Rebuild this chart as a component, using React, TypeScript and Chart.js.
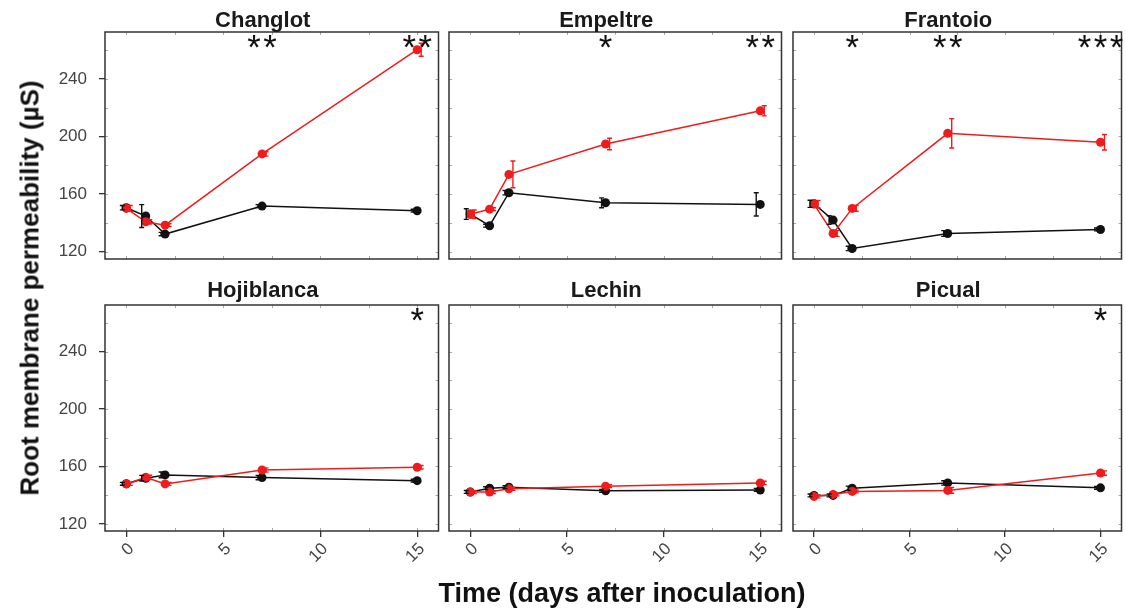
import React, { useEffect, useRef } from 'react';
import { Chart, registerables } from 'chart.js';

Chart.register(...registerables);

// ---------------- data ----------------
const days = [0, 1, 2, 7, 15];
const xTickValues = [0, 5, 10, 15];
const xMinorValues = [0, 2.5, 5, 7.5, 10, 12.5, 15];
const yTickValues = [120, 160, 200, 240];
const yMinorValues = [120, 140, 160, 180, 200, 220, 240, 260];

const changlotControl = [150.6, 144.8, 132.3, 151.7, 148.5];
const changlotControlErr = [1.5, 7.9, 1.2, 1.0, 1.0];
const changlotInoculated = [150.1, 140.8, 138.5, 187.9, 260.2];
const changlotInoculatedErr = [2.0, 1.5, 1.0, 1.5, 4.5];
const changlotSig = ['', '', '', '**', '**'];

const empeltreControl = [146.2, 138.1, 161.0, 154.0, 152.9];
const empeltreControlErr = [3.7, 1.0, 1.5, 3.4, 8.1];
const empeltreInoculated = [146.0, 149.6, 173.7, 194.8, 217.8];
const empeltreInoculatedErr = [3.0, 1.0, 9.3, 4.0, 3.5];
const empeltreSig = ['', '', '', '*', '**'];

const frantoioControl = [153.3, 142.0, 122.3, 132.7, 135.5];
const frantoioControlErr = [2.5, 3.0, 1.5, 2.0, 1.0];
const frantoioInoculated = [153.1, 132.7, 150.1, 202.2, 196.0];
const frantoioInoculatedErr = [2.5, 2.0, 2.0, 10.2, 5.4];
const frantoioSig = ['', '', '*', '**', '***'];

const hojiblancaControl = [147.9, 151.8, 154.1, 152.2, 150.1];
const hojiblancaControlErr = [1.0, 2.0, 2.0, 1.5, 1.0];
const hojiblancaInoculated = [147.8, 152.4, 147.8, 157.5, 159.4];
const hojiblancaInoculatedErr = [1.0, 1.5, 1.0, 1.5, 1.2];
const hojiblancaSig = ['', '', '', '', '*'];

const lechinControl = [142.2, 144.8, 145.5, 143.0, 143.6];
const lechinControlErr = [1.0, 1.0, 1.0, 1.0, 1.0];
const lechinInoculated = [142.1, 142.1, 144.4, 146.2, 148.5];
const lechinInoculatedErr = [1.0, 1.0, 1.0, 1.0, 1.2];
const lechinSig = ['', '', '', '', ''];

const picualControl = [139.8, 139.8, 144.8, 148.5, 145.1];
const picualControlErr = [1.0, 1.0, 1.5, 1.5, 1.0];
const picualInoculated = [139.1, 140.5, 142.6, 143.3, 155.4];
const picualInoculatedErr = [1.0, 1.0, 1.0, 2.0, 1.5];
const picualSig = ['', '', '', '', '*'];

const yTitle = 'Root membrane permeability (µS)';
const xTitle = 'Time (days after inoculation)';

const panels = [
  { name: 'Changlot', ctrl: changlotControl, ctrlErr: changlotControlErr, inoc: changlotInoculated, inocErr: changlotInoculatedErr, sig: changlotSig },
  { name: 'Empeltre', ctrl: empeltreControl, ctrlErr: empeltreControlErr, inoc: empeltreInoculated, inocErr: empeltreInoculatedErr, sig: empeltreSig },
  { name: 'Frantoio', ctrl: frantoioControl, ctrlErr: frantoioControlErr, inoc: frantoioInoculated, inocErr: frantoioInoculatedErr, sig: frantoioSig },
  { name: 'Hojiblanca', ctrl: hojiblancaControl, ctrlErr: hojiblancaControlErr, inoc: hojiblancaInoculated, inocErr: hojiblancaInoculatedErr, sig: hojiblancaSig },
  { name: 'Lechin', ctrl: lechinControl, ctrlErr: lechinControlErr, inoc: lechinInoculated, inocErr: lechinInoculatedErr, sig: lechinSig },
  { name: 'Picual', ctrl: picualControl, ctrlErr: picualControlErr, inoc: picualInoculated, inocErr: picualInoculatedErr, sig: picualSig },
];

// ---------------- layout / style ----------------
const FONT = '"Liberation Sans", Arial, Helvetica, sans-serif';
const X_MIN = -1.1;
const X_MAX = 16.1;
const Y_MIN = 115;
const Y_MAX = 272.5;
const COLS = [[105, 439], [449, 782], [793, 1125]];
const ROWS = [[32, 259], [305, 531]];
const TITLE_BASELINE = [27, 297];
const RED = '#ee1c1c';
const BLACK = '#111111';

function makeDecor(p: any, r: number) {
  return {
    id: 'panelDecor',
    beforeDatasetsDraw(chart: any) {
      const { ctx, chartArea: a, scales } = chart;
      const xs = scales.x;
      const ys = scales.y;
      ctx.save();
      ctx.strokeStyle = '#aaaaaa';
      ctx.lineWidth = 1;
      ctx.beginPath();
      xMinorValues.forEach((v) => {
        const px = Math.round(xs.getPixelForValue(v)) + 0.5;
        ctx.moveTo(px, a.top);
        ctx.lineTo(px, a.top + 3);
        ctx.moveTo(px, a.bottom);
        ctx.lineTo(px, a.bottom - 3);
      });
      yMinorValues.forEach((v) => {
        const py = Math.round(ys.getPixelForValue(v)) + 0.5;
        ctx.moveTo(a.left, py);
        ctx.lineTo(a.left + 3, py);
        ctx.moveTo(a.right, py);
        ctx.lineTo(a.right - 3, py);
      });
      ctx.stroke();
      ctx.strokeStyle = '#333333';
      ctx.lineWidth = 1.5;
      ctx.strokeRect(a.left, a.top, a.right - a.left, a.bottom - a.top);
      ctx.restore();
    },
    afterDatasetsDraw(chart: any) {
      const { ctx, scales } = chart;
      const ys = scales.y;
      ctx.save();
      ctx.lineWidth = 1.4;
      chart.data.datasets.forEach((ds: any, i: number) => {
        const meta = chart.getDatasetMeta(i);
        ctx.strokeStyle = ds.borderColor;
        ctx.beginPath();
        meta.data.forEach((pt: any, j: number) => {
          const v = ds.data[j].y;
          const e = ds.errors[j];
          const x = pt.x + ds.errOffset;
          const y1 = ys.getPixelForValue(v + e);
          const y2 = ys.getPixelForValue(v - e);
          ctx.moveTo(x, y1);
          ctx.lineTo(x, y2);
          ctx.moveTo(x - 2.5, y1);
          ctx.lineTo(x + 2.5, y1);
          ctx.moveTo(x - 2.5, y2);
          ctx.lineTo(x + 2.5, y2);
        });
        ctx.stroke();
      });
      ctx.restore();
    },
    afterDraw(chart: any) {
      const { ctx, chartArea: a, scales } = chart;
      const xs = scales.x;
      ctx.save();
      // panel title
      ctx.fillStyle = '#1a1a1a';
      ctx.font = `bold 22px ${FONT}`;
      ctx.textAlign = 'center';
      ctx.textBaseline = 'alphabetic';
      ctx.fillText(p.name, (a.left + a.right) / 2 - 9, a.top - (ROWS[r][0] - TITLE_BASELINE[r]));
      // significance stars
      ctx.font = `100px ${FONT}`;
      const m100 = ctx.measureText('*');
      const h100 = m100.actualBoundingBoxAscent + m100.actualBoundingBoxDescent;
      const size = (12.5 / h100) * 100;
      ctx.font = `${size}px ${FONT}`;
      const m = ctx.measureText('*');
      const cy = a.top + 9.5;
      const base = cy - (m.actualBoundingBoxDescent - m.actualBoundingBoxAscent) / 2;
      ctx.fillStyle = '#111';
      p.sig.forEach((s: string, j: number) => {
        if (!s) return;
        const cx = xs.getPixelForValue(days[j]);
        const n = s.length;
        const step = 16;
        for (let k = 0; k < n; k++) {
          ctx.fillText('*', cx + (k - (n - 1) / 2) * step, base);
        }
      });
      ctx.restore();
    },
  };
}

function Panel({ p, r, c }: { p: any; r: number; c: number }) {
  const ref = useRef<HTMLCanvasElement | null>(null);
  const left = c === 0 ? 0 : COLS[c][0] - 8;
  const right = c === 2 ? 1126 : COLS[c][1] + 4;
  const top = r === 0 ? 0 : 270;
  const bottom = r === 0 ? 295 : 580;
  const w = right - left;
  const h = bottom - top;
  const yAxisW = COLS[c][0] - left;
  const xAxisH = bottom - ROWS[r][1];
  const padTop = ROWS[r][0] - top;
  const padRight = right - COLS[c][1];
  const showY = c === 0;
  const showX = r === 1;

  useEffect(() => {
    const canvas = ref.current;
    if (!canvas) return;
    const chart = new Chart(canvas, {
      type: 'line',
      data: {
        datasets: [
          {
            label: 'Inoculated',
            data: days.map((d, i) => ({ x: d, y: p.inoc[i] })),
            borderColor: RED,
            backgroundColor: RED,
            borderWidth: 1.5,
            pointRadius: 4.5,
            pointBorderWidth: 0,
            pointBackgroundColor: RED,
            tension: 0,
            order: 1,
            errors: p.inocErr,
            errOffset: 4,
          } as any,
          {
            label: 'Control',
            data: days.map((d, i) => ({ x: d, y: p.ctrl[i] })),
            borderColor: BLACK,
            backgroundColor: BLACK,
            borderWidth: 1.5,
            pointRadius: 4.5,
            pointBorderWidth: 0,
            pointBackgroundColor: BLACK,
            tension: 0,
            order: 2,
            errors: p.ctrlErr,
            errOffset: -4,
          } as any,
        ],
      },
      options: {
        animation: false,
        responsive: false,
        maintainAspectRatio: false,
        events: [],
        layout: { padding: { top: padTop, right: padRight, left: 0, bottom: 0 } },
        plugins: {
          legend: { display: false },
          tooltip: { enabled: false },
          title: { display: false },
        },
        scales: {
          x: {
            type: 'linear',
            position: 'bottom',
            min: X_MIN,
            max: X_MAX,
            afterBuildTicks: (s: any) => {
              s.ticks = xTickValues.map((v) => ({ value: v }));
            },
            afterFit: (s: any) => {
              s.height = xAxisH;
            },
            grid: { display: showX, drawOnChartArea: false, drawTicks: true, tickLength: 6, color: '#333', lineWidth: 1.3 },
            border: { display: false },
            ticks: {
              display: showX,
              autoSkip: false,
              minRotation: 45,
              maxRotation: 45,
              padding: 2,
              labelOffset: 5,
              color: '#444',
              font: { family: FONT, size: 17 },
            },
          },
          y: {
            type: 'linear',
            position: 'left',
            min: Y_MIN,
            max: Y_MAX,
            afterBuildTicks: (s: any) => {
              s.ticks = yTickValues.map((v) => ({ value: v }));
            },
            afterFit: (s: any) => {
              s.width = yAxisW;
            },
            grid: { display: showY, drawOnChartArea: false, drawTicks: true, tickLength: 6, color: '#333', lineWidth: 1.3 },
            border: { display: false },
            ticks: {
              display: showY,
              padding: 12,
              color: '#444',
              font: { family: FONT, size: 17 },
            },
          },
        },
      },
      plugins: [makeDecor(p, r)],
    } as any);
    return () => chart.destroy();
  }, []);

  return (
    <canvas
      ref={ref}
      width={w}
      height={h}
      style={{ position: 'absolute', left, top, width: w, height: h }}
    />
  );
}

export default function App() {
  return (
    <div
      style={{
        position: 'absolute',
        left: 0,
        top: 0,
        width: 1126,
        height: 610,
        background: '#ffffff',
        overflow: 'hidden',
        fontFamily: FONT,
      }}
    >
      {panels.map((p, i) => (
        <Panel key={p.name} p={p} r={Math.floor(i / 3)} c={i % 3} />
      ))}
      <div
        style={{
          position: 'absolute',
          left: 30,
          top: 288,
          transform: 'translate(-50%, -50%) rotate(-90deg)',
          font: `bold 26px ${FONT}`,
          color: '#111',
          whiteSpace: 'nowrap',
        }}
      >
        {yTitle}
      </div>
      <div
        style={{
          position: 'absolute',
          left: 622,
          top: 593,
          transform: 'translate(-50%, -50%)',
          font: `bold 27px ${FONT}`,
          color: '#111',
          whiteSpace: 'nowrap',
        }}
      >
        {xTitle}
      </div>
    </div>
  );
}
